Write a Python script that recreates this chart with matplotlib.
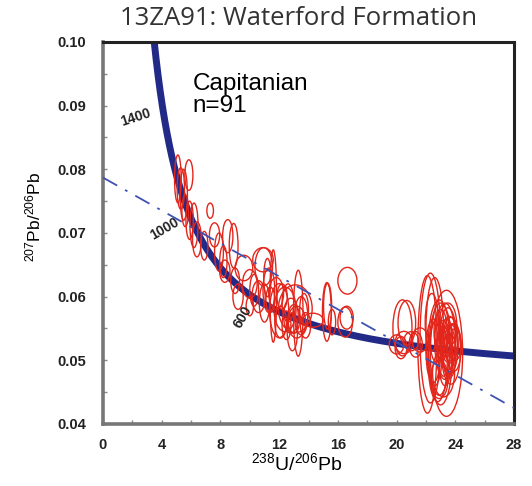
import numpy as np
import matplotlib
matplotlib.use("Agg")
import matplotlib.pyplot as plt
from matplotlib.patches import Ellipse
from matplotlib.ticker import MultipleLocator

plt.rcParams["mathtext.fontset"] = "custom"
plt.rcParams["mathtext.rm"] = "Liberation Sans"
plt.rcParams["mathtext.it"] = "Liberation Sans"

# Decay constants (per year) and present-day 238U/235U
L238 = 1.55125e-10
L235 = 9.8485e-10
U_RATIO = 137.88

# Concordia ages that get a label (Ma)
label_ages = [1400, 1000, 600]
label_pos = [(2.2, 0.0881), (4.2, 0.0706), (9.5, 0.0568)]
label_rot = [18, 30, 60]

# Discordia reference line: 207Pb/206Pb at x=0 and at x=28
disc_x = [0, 28]
disc_y = [0.0787, 0.0425]

# Analyses: 238U/206Pb centre, 207Pb/206Pb centre, full ellipse width and height
ell_x = [5.1, 5.3, 5.5, 5.85, 5.6, 5.9, 6.2, 6.4, 7.3, 7.9, 8.2, 8.5, 8.9, 8.3, 9.0, 6.9, 7.6,
         9.6, 10.0, 10.9, 10.95, 11.6, 11.3, 10.6, 11.0, 11.4, 11.8, 10.3, 12.0, 12.4, 13.3,
         13.1, 12.8, 13.0, 13.2, 12.6, 13.5, 12.9, 12.2, 13.7, 12.5, 9.2, 10.0, 14.3, 11.2,
         12.1, 13.8,
         15.25, 15.3, 16.65, 16.5, 16.6, 15.6,
         20.4, 20.7, 20.0, 20.5, 21.0, 21.3, 21.6, 20.3, 22.1, 22.3, 23.4, 22.6, 22.9, 23.0,
         22.8, 23.3, 23.6, 23.5, 23.7, 23.2, 23.9, 23.4, 23.1, 23.6, 23.8, 23.3, 22.5, 23.5,
         23.0, 23.7, 22.7, 24.0, 23.2, 22.9, 23.5, 22.4, 23.6, 23.1]
ell_y = [0.0785, 0.0770, 0.0760, 0.0791, 0.0735, 0.0720, 0.0712, 0.0690, 0.0735, 0.0670,
         0.0655, 0.0695, 0.0680, 0.0640, 0.0625, 0.0680, 0.0697,
         0.0645, 0.0620, 0.0658, 0.0647, 0.0601, 0.0610, 0.0600, 0.0590, 0.0595, 0.0605,
         0.0610, 0.0578, 0.0580, 0.0574, 0.0581, 0.0570, 0.0565, 0.0560, 0.0590, 0.0570,
         0.0545, 0.0600, 0.0580, 0.0555, 0.0600, 0.0585, 0.0563, 0.0630, 0.0560, 0.0555,
         0.0576, 0.0585, 0.0625, 0.0560, 0.0567, 0.0560,
         0.0551, 0.0559, 0.0525, 0.0528, 0.0530, 0.0525, 0.0532, 0.0520, 0.0525, 0.0535,
         0.0511, 0.0545, 0.0520, 0.0510, 0.0500, 0.0530, 0.0524, 0.0520, 0.0526, 0.0515,
         0.0520, 0.0535, 0.0525, 0.0510, 0.0530, 0.0505, 0.0515, 0.0540, 0.0545, 0.0515,
         0.0530, 0.0525, 0.0480, 0.0470, 0.0555, 0.0560, 0.0500, 0.0540]
ell_w = [0.45, 0.5, 0.5, 0.55, 0.45, 0.5, 0.55, 0.6, 0.45, 0.6, 0.5, 0.7, 0.6, 0.7, 0.6, 0.5, 0.7,
         1.2, 1.0, 1.4, 1.2, 0.45, 0.8, 0.9, 0.7, 0.6, 1.0, 0.6, 1.3, 1.5, 0.65, 2.3, 1.0, 0.8,
         1.2, 0.8, 0.9, 0.7, 0.7, 0.6, 0.6, 0.7, 0.5, 1.4, 0.5, 0.8, 0.7,
         0.6, 0.55, 1.3, 1.0, 0.9, 0.5,
         1.3, 1.2, 1.0, 1.2, 1.0, 0.9, 1.1, 0.8, 1.3, 1.4, 2.2, 1.2, 1.5, 1.6, 1.3, 1.4, 1.2,
         1.0, 0.9, 0.8, 1.0, 0.8, 0.7, 0.9, 0.7, 0.9, 1.0, 1.1, 0.9, 1.3, 0.8, 0.8, 1.5, 1.2,
         1.2, 0.9, 0.8, 1.0]
ell_h = [0.0075, 0.0065, 0.0080, 0.0048, 0.0050, 0.0060, 0.0070, 0.0055, 0.0024, 0.0060,
         0.0050, 0.0052, 0.0070, 0.0035, 0.0040, 0.0045, 0.0038,
         0.0040, 0.0045, 0.0038, 0.0060, 0.0145, 0.0070, 0.0050, 0.0060, 0.0040, 0.0050,
         0.0050, 0.0085, 0.0070, 0.0135, 0.0075, 0.0055, 0.0045, 0.0050, 0.0060, 0.0060,
         0.0060, 0.0040, 0.0050, 0.0045, 0.0040, 0.0030, 0.0022, 0.0060, 0.0050, 0.0040,
         0.0092, 0.0072, 0.0042, 0.0047, 0.0036, 0.0040,
         0.0088, 0.0070, 0.0030, 0.0035, 0.0030, 0.0040, 0.0038, 0.0035, 0.0216, 0.0204,
         0.0198, 0.0170, 0.0150, 0.0160, 0.0130, 0.0120, 0.0090, 0.0070, 0.0060, 0.0080,
         0.0075, 0.0060, 0.0050, 0.0065, 0.0055, 0.0090, 0.0100, 0.0085, 0.0070, 0.0105,
         0.0065, 0.0050, 0.0075, 0.0060, 0.0070, 0.0090, 0.0055, 0.0045]


def tw_point(age_ma):
    t = np.asarray(age_ma) * 1e6
    e8 = np.exp(L238 * t) - 1
    e5 = np.exp(L235 * t) - 1
    return 1 / e8, e5 / e8 / U_RATIO


fig = plt.figure(figsize=(5.32, 4.86), dpi=100)
ax = fig.add_axes([0.1936, 0.1276, 0.7726, 0.786])

# Concordia curve
ages = np.linspace(150, 1800, 600)
cx, cy = tw_point(ages)
ax.plot(cx, cy, color="#222a88", lw=5, solid_capstyle="butt", zorder=2)

# Analyses as error ellipses
for x, y, w, h in zip(ell_x, ell_y, ell_w, ell_h):
    ax.add_patch(Ellipse((x, y), w, h, fill=False, edgecolor="#e3261c", lw=1.0, zorder=3))

# Discordia
ax.plot(disc_x, disc_y, color="#3f51b5", lw=1.3, linestyle=(0, (9, 5, 1.5, 5)), zorder=4)

for age, (lx, ly), rot in zip(label_ages, label_pos, label_rot):
    ax.text(lx, ly, str(age), rotation=rot, ha="center", va="center", fontsize=10,
            fontweight="bold", color="#222222", family="Liberation Sans")

ax.text(6.1, 0.0951, "Capitanian\nn=91", ha="left", va="top", fontsize=17.5,
        family="Liberation Sans", linespacing=1.0)

ax.set_xlim(0, 28)
ax.set_ylim(0.04, 0.10)
ax.xaxis.set_major_locator(MultipleLocator(4))
ax.xaxis.set_minor_locator(MultipleLocator(2))
ax.yaxis.set_major_locator(MultipleLocator(0.01))
ax.yaxis.set_minor_locator(MultipleLocator(0.005))
ax.yaxis.set_major_formatter(plt.FuncFormatter(lambda v, p: f"{v:.2f}"))
ax.tick_params(which="both", direction="in", length=3, color="#888888", width=1)
ax.tick_params(axis="x", labelsize=10.5, pad=10)
ax.tick_params(axis="y", labelsize=10.5, pad=12)
for lab in ax.get_xticklabels() + ax.get_yticklabels():
    lab.set_fontweight("bold")
    lab.set_family("Liberation Sans")
    lab.set_color("#222222")

for side in ["left", "bottom"]:
    ax.spines[side].set_color("#777777")
    ax.spines[side].set_linewidth(2.6)
for side in ["top", "right"]:
    ax.spines[side].set_color("#222222")
    ax.spines[side].set_linewidth(2.2)

ax.set_xlabel("$^{238}$U/$^{206}$Pb", fontsize=14, family="Liberation Sans")
ax.set_ylabel("$^{207}$Pb/$^{206}$Pb", fontsize=12.5, family="Liberation Sans")
ax.xaxis.set_label_coords(0.472, -0.075)
ax.yaxis.set_label_coords(-0.146, 0.542)

fig.text(0.562, 0.962, "13ZA91: Waterford Formation", ha="center", va="center",
         fontsize=18.5, family="Open Sans", color="#333333")

fig.savefig("out.png", dpi=100)
